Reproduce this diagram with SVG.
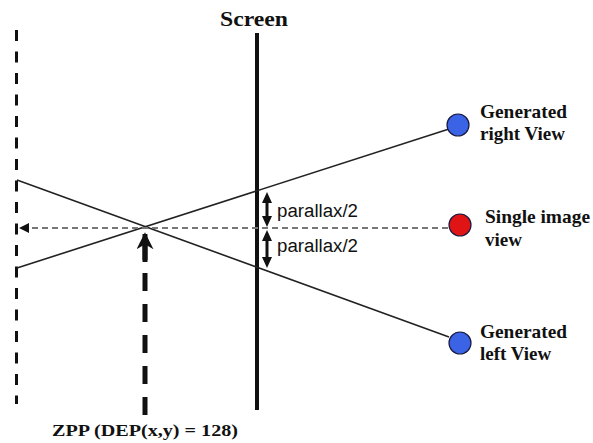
<svg xmlns="http://www.w3.org/2000/svg" width="593" height="443" viewBox="0 0 593 443">
  <style>
    .lbl { font-family: "Liberation Serif", "Times New Roman", serif; font-weight: bold; fill: #111; }
    .sans { font-family: "Liberation Sans", Arial, sans-serif; fill: #111; }
    .ray { stroke: #222; stroke-width: 1.6; fill: none; }
    .node { stroke: #1a1a40; stroke-width: 1.2; }
    .shaft { stroke: #111; stroke-width: 3; }
    .tip { fill: #111; }
  </style>
  <defs>
    <marker id="headSmall" viewBox="0 0 10 10" refX="9" refY="5" markerWidth="5" markerHeight="5" orient="auto" markerUnits="strokeWidth">
      <path d="M0,0 L10,5 L0,10 Z" fill="#111"/>
    </marker>
    <marker id="headBold" viewBox="0 0 10 10" refX="9" refY="5" markerWidth="3.4" markerHeight="3.4" orient="auto" markerUnits="strokeWidth">
      <path d="M0,0 L10,5 L0,10 L3,5 Z" fill="#111"/>
    </marker>
  </defs>

  <!-- planes -->
  <g id="zero-plane">
    <line x1="16.5" y1="30" x2="16.5" y2="404" stroke="#111" stroke-width="3" stroke-dasharray="11,10.5"/>
  </g>
  <g id="screen">
    <line x1="257" y1="33" x2="257" y2="410" stroke="#111" stroke-width="4"/>
    <text class="lbl" x="254" y="26" font-size="22" text-anchor="middle" textLength="68" lengthAdjust="spacingAndGlyphs">Screen</text>
  </g>

  <!-- connectors -->
  <g id="connectors">
    <line class="ray" x1="17" y1="268" x2="449" y2="129"/>
    <line class="ray" x1="17" y1="180" x2="449" y2="337"/>
    <line x1="448" y1="228" x2="20" y2="228" stroke="#777" stroke-width="2" stroke-dasharray="6,4" marker-end="url(#headSmall)"/>
    <line x1="145" y1="415" x2="145" y2="234" stroke="#111" stroke-width="5" stroke-dasharray="18,13"/>
    <line x1="145" y1="262" x2="145" y2="234" stroke="#111" stroke-width="5" marker-end="url(#headBold)"/>
    <!-- double-headed parallax arrows -->
    <line class="shaft" x1="267" y1="200" x2="267" y2="219"/>
    <path class="tip" d="M267,192 L272,203 L262,203 Z M267,227 L272,216 L262,216 Z"/>
    <line class="shaft" x1="267" y1="238" x2="267" y2="260"/>
    <path class="tip" d="M267,230 L272,241 L262,241 Z M267,268 L272,257 L262,257 Z"/>
  </g>

  <g id="parallax-labels">
    <text class="sans" x="277" y="217" font-size="18" textLength="81" lengthAdjust="spacingAndGlyphs">parallax/2</text>
    <text class="sans" x="277" y="252" font-size="18" textLength="81" lengthAdjust="spacingAndGlyphs">parallax/2</text>
  </g>

  <!-- views -->
  <g id="right-view">
    <circle class="node" cx="458" cy="125" r="11" fill="#3a63e6"/>
    <text class="lbl" x="480" y="118" font-size="19" textLength="87" lengthAdjust="spacingAndGlyphs">Generated</text>
    <text class="lbl" x="480" y="140" font-size="19">right View</text>
  </g>
  <g id="single-view">
    <circle class="node" cx="460" cy="225" r="11" fill="#e01414"/>
    <text class="lbl" x="485" y="223" font-size="19" textLength="105" lengthAdjust="spacingAndGlyphs">Single image</text>
    <text class="lbl" x="485" y="246" font-size="19">view</text>
  </g>
  <g id="left-view">
    <circle class="node" cx="460" cy="343" r="11" fill="#3a63e6"/>
    <text class="lbl" x="480" y="338" font-size="19" textLength="87" lengthAdjust="spacingAndGlyphs">Generated</text>
    <text class="lbl" x="480" y="360" font-size="19">left View</text>
  </g>

  <g id="zpp-label">
    <text class="lbl" x="52" y="436" font-size="17" textLength="186" lengthAdjust="spacingAndGlyphs">ZPP (DEP(x,y)  = 128)</text>
  </g>
</svg>
